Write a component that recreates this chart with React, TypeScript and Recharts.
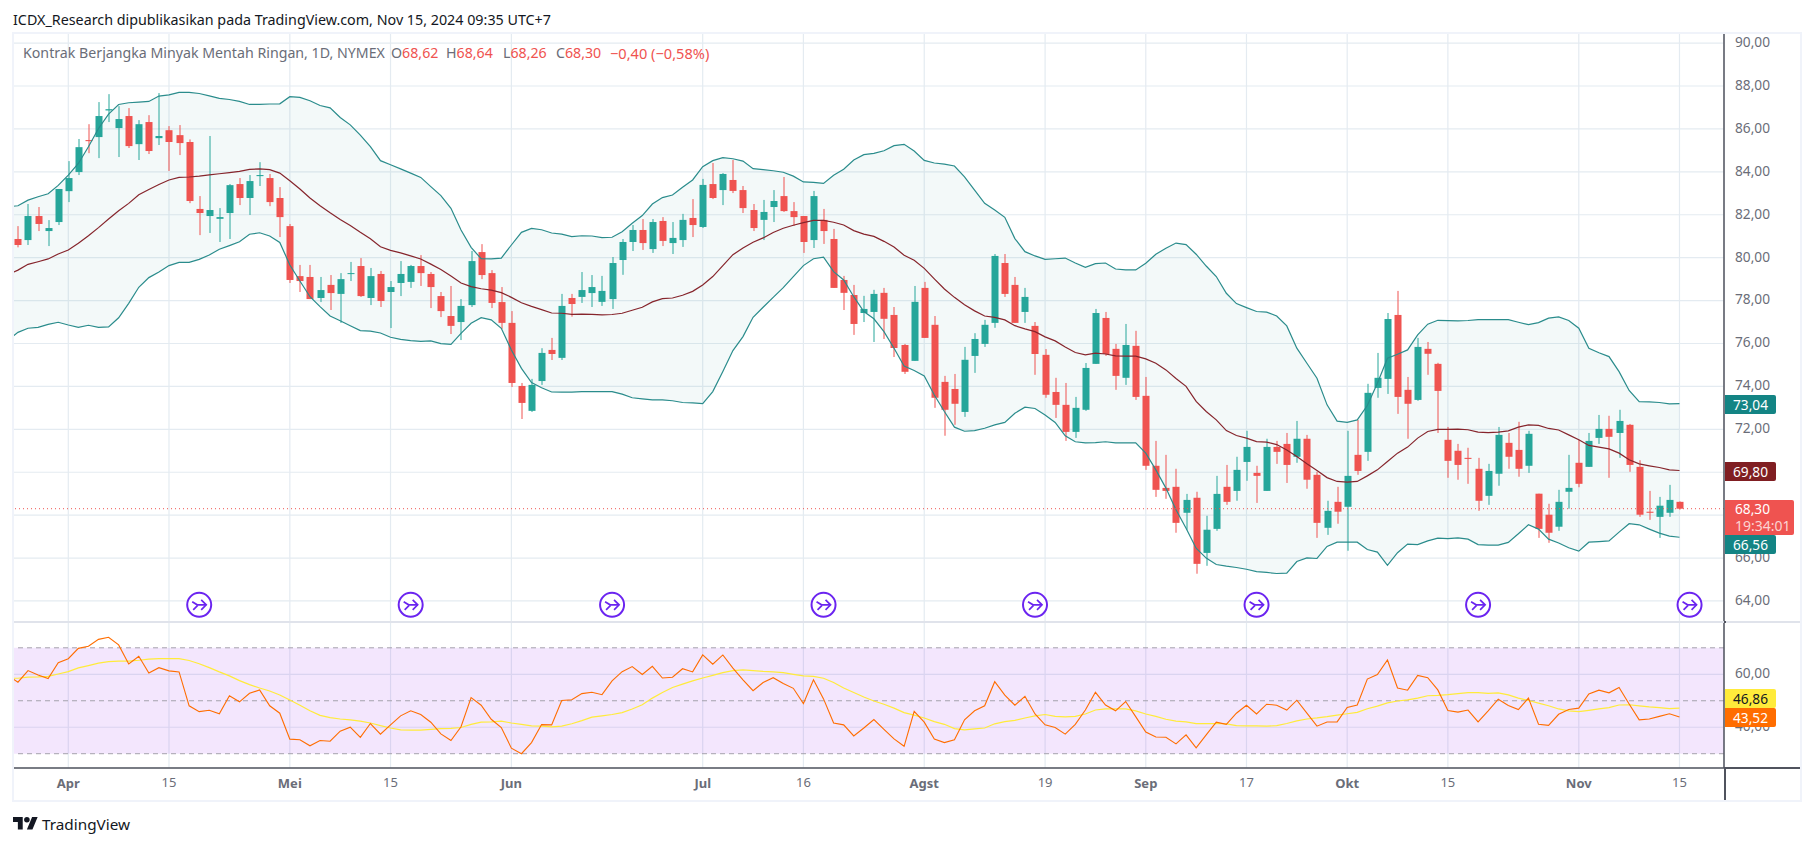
import { Area, Bar, CartesianGrid, ComposedChart, Line, ReferenceArea, ReferenceDot, ReferenceLine, XAxis, YAxis } from "recharts";

// first entry of each list is the bar cut off by the left edge of the pane
const opens = [
  80.90,
  80.87, 80.82, 81.94, 81.24, 81.66, 83.10, 83.99, 85.48, 85.62, 86.86,
  86.04, 86.60, 85.29, 86.32, 85.57, 85.94, 85.71, 85.39, 82.27, 81.94,
  81.81, 82.08, 83.43, 82.78, 83.80, 83.71, 82.78, 81.47, 79.14, 79.10,
  78.12, 78.73, 78.31, 79.24, 79.61, 78.12, 79.24, 78.40, 78.82, 78.87,
  79.61, 79.24, 78.21, 77.28, 77.00, 77.79, 80.26, 79.28, 77.93, 76.96,
  74.02, 72.86, 74.25, 75.70, 75.33, 78.12, 78.17, 78.35, 77.94, 78.07,
  79.89, 80.73, 81.29, 80.40, 81.71, 80.68, 80.82, 81.85, 81.43, 83.43,
  83.15, 83.62, 83.15, 82.22, 81.76, 82.36, 82.87, 82.17, 81.94, 80.82,
  81.76, 80.87, 78.96, 78.26, 77.42, 77.47, 78.36, 77.33, 75.93, 75.19,
  78.59, 76.87, 74.21, 73.88, 72.81, 75.42, 75.98, 76.96, 79.75, 78.73,
  77.47, 76.82, 75.47, 73.74, 73.14, 71.88, 72.91, 75.05, 77.19, 75.75,
  74.40, 75.89, 73.56, 70.30, 69.27, 69.32, 68.11, 68.81, 66.24, 67.36,
  69.32, 69.13, 70.48, 69.97, 69.13, 71.18, 71.32, 70.72, 71.56, 69.88,
  67.41, 68.62, 68.39, 70.81, 70.95, 73.93, 74.35, 77.33, 73.84, 73.37,
  75.75, 75.05, 71.51, 71.00, 70.67, 70.16, 68.90, 69.93, 71.37, 71.04,
  70.30, 69.00, 68.02, 67.46, 69.09, 70.44, 70.25, 71.60, 72.02, 71.83,
  72.21, 70.25, 68.16, 67.92, 68.11, 68.62,
];
const closes = [
  80.87,
  80.59, 81.94, 81.57, 81.38, 83.20, 83.71, 85.15, 85.43, 86.60, 86.92,
  86.46, 85.20, 86.22, 84.97, 85.67, 85.39, 85.34, 82.64, 82.08, 82.22,
  81.89, 83.38, 82.78, 83.57, 83.85, 82.59, 81.89, 78.96, 78.91, 78.07,
  78.49, 78.35, 79.00, 79.28, 78.21, 79.14, 77.98, 78.63, 79.24, 79.61,
  79.28, 78.63, 77.51, 76.82, 77.75, 79.84, 79.19, 77.89, 76.96, 74.16,
  73.23, 74.07, 75.56, 75.51, 77.75, 77.84, 78.49, 78.63, 78.45, 79.75,
  80.73, 81.29, 80.68, 81.66, 80.78, 80.92, 81.76, 81.52, 83.39, 82.78,
  83.90, 83.11, 82.31, 81.38, 82.13, 82.64, 82.17, 81.89, 80.73, 82.87,
  81.24, 78.59, 78.36, 76.91, 77.61, 78.31, 77.15, 75.79, 74.68, 77.94,
  76.26, 73.47, 72.91, 73.19, 75.24, 76.21, 76.87, 80.08, 78.31, 76.96,
  78.17, 75.51, 73.61, 73.14, 71.88, 73.00, 74.86, 77.42, 75.51, 74.49,
  75.93, 73.51, 70.30, 69.18, 69.13, 67.64, 68.71, 65.73, 67.32, 68.99,
  68.62, 70.11, 71.18, 69.83, 71.18, 70.95, 70.34, 71.56, 69.65, 67.64,
  68.20, 68.16, 69.83, 70.06, 73.70, 74.40, 77.14, 73.51, 73.19, 75.84,
  75.52, 73.79, 70.53, 70.34, 70.62, 68.67, 70.06, 71.74, 70.72, 70.16,
  71.79, 67.36, 67.18, 68.62, 69.27, 69.46, 71.46, 72.02, 71.65, 72.39,
  70.34, 68.02, 68.11, 68.44, 68.71, 68.30,
];
const highs = [
  81.20,
  81.47, 82.50, 82.36, 81.75, 83.20, 84.50, 85.53, 86.22, 87.25, 87.62,
  87.06, 86.97, 86.41, 86.64, 87.67, 86.13, 86.18, 85.51, 82.87, 85.67,
  82.31, 83.43, 83.71, 83.85, 84.45, 83.90, 83.29, 81.57, 79.66, 79.66,
  79.10, 79.19, 79.28, 79.80, 79.98, 79.52, 79.38, 78.91, 79.84, 79.66,
  80.12, 79.33, 78.40, 78.68, 78.07, 80.31, 80.63, 79.42, 78.63, 77.51,
  74.16, 74.35, 75.78, 76.26, 78.31, 78.31, 79.33, 79.19, 79.15, 80.03,
  80.87, 81.52, 81.80, 81.80, 81.89, 81.66, 82.04, 82.73, 83.67, 84.41,
  83.94, 84.55, 83.34, 82.50, 82.69, 83.15, 83.76, 82.59, 81.94, 83.11,
  82.27, 81.34, 79.15, 78.73, 78.22, 78.50, 78.59, 77.70, 75.98, 78.68,
  78.87, 77.28, 74.49, 74.58, 75.84, 76.48, 77.10, 80.17, 80.17, 79.10,
  78.59, 77.00, 75.74, 74.40, 74.16, 73.51, 75.09, 77.61, 77.47, 75.98,
  76.91, 76.59, 74.44, 71.46, 70.81, 70.16, 68.99, 69.09, 67.97, 69.83,
  70.34, 70.72, 71.93, 70.30, 71.56, 71.46, 71.83, 72.39, 71.74, 70.02,
  68.67, 69.32, 71.93, 72.44, 74.12, 75.56, 77.42, 78.45, 74.44, 76.26,
  76.07, 75.10, 72.11, 71.32, 71.14, 70.67, 70.39, 72.11, 71.83, 72.35,
  71.93, 69.00, 68.53, 69.18, 70.81, 71.51, 71.83, 72.67, 72.63, 72.91,
  72.25, 70.56, 69.13, 68.85, 69.41, 68.64,
];
const lows = [
  80.60,
  80.48, 80.59, 81.24, 80.54, 81.52, 82.59, 83.85, 84.87, 84.64, 86.32,
  84.69, 85.11, 84.55, 84.83, 85.25, 84.04, 84.78, 82.54, 81.05, 81.15,
  80.73, 80.87, 82.45, 81.99, 83.34, 82.40, 80.96, 78.82, 78.40, 78.07,
  77.93, 77.56, 76.96, 78.91, 78.17, 77.79, 77.70, 76.72, 78.21, 78.59,
  78.68, 77.65, 77.23, 76.44, 76.16, 77.70, 79.00, 77.65, 76.68, 73.97,
  72.48, 72.81, 74.07, 75.23, 75.23, 77.25, 77.89, 77.70, 77.75, 77.61,
  79.20, 80.31, 80.36, 80.22, 80.54, 80.17, 80.50, 80.96, 81.38, 82.73,
  82.45, 83.01, 82.08, 81.24, 80.82, 81.66, 82.13, 81.48, 80.22, 80.45,
  80.64, 78.59, 77.56, 76.40, 77.00, 76.07, 76.21, 75.37, 74.58, 75.19,
  76.26, 73.00, 71.70, 72.21, 72.58, 74.63, 75.84, 76.73, 78.17, 76.96,
  76.96, 74.54, 73.47, 72.53, 71.46, 71.60, 72.86, 75.05, 75.42, 73.84,
  74.07, 73.37, 70.11, 68.85, 68.76, 67.18, 67.32, 65.27, 65.64, 67.27,
  68.48, 68.67, 69.60, 68.57, 69.13, 70.39, 69.50, 70.44, 69.23, 66.94,
  67.08, 67.60, 66.34, 69.88, 70.53, 73.47, 73.65, 72.72, 71.56, 73.33,
  74.54, 71.83, 69.74, 69.65, 69.46, 68.20, 68.48, 69.37, 70.16, 69.79,
  69.97, 66.94, 66.71, 67.27, 68.30, 69.30, 70.25, 71.32, 69.74, 70.67,
  70.02, 67.92, 67.78, 66.94, 67.92, 68.26,
];
const bbUpper = [
  82.37,
  82.42, 82.68, 82.84, 82.98, 83.37, 83.85, 84.39, 85.17, 86.02, 86.69,
  87.14, 87.22, 87.25, 87.28, 87.53, 87.59, 87.70, 87.70, 87.65, 87.54,
  87.42, 87.37, 87.28, 87.14, 87.14, 87.16, 87.17, 87.50, 87.47, 87.31,
  87.09, 86.98, 86.53, 86.19, 85.71, 85.17, 84.52, 84.33, 84.14, 83.94,
  83.74, 83.31, 82.89, 82.30, 81.29, 80.48, 79.95, 79.94, 79.98, 80.59,
  81.18, 81.36, 81.30, 81.15, 81.10, 80.98, 81.02, 81.01, 80.93, 80.95,
  81.21, 81.60, 81.96, 82.50, 82.80, 82.92, 83.28, 83.62, 84.24, 84.52,
  84.66, 84.61, 84.50, 84.15, 84.10, 84.05, 83.98, 83.80, 83.53, 83.51,
  83.46, 83.84, 84.12, 84.55, 84.80, 84.86, 84.98, 85.22, 85.28, 84.97,
  84.53, 84.41, 84.36, 84.27, 83.77, 83.15, 82.53, 82.22, 81.88, 80.89,
  80.28, 80.08, 79.92, 79.95, 79.98, 79.75, 79.55, 79.72, 79.75, 79.47,
  79.43, 79.43, 79.74, 80.16, 80.44, 80.68, 80.61, 80.16, 79.61, 79.12,
  78.34, 77.86, 77.67, 77.49, 77.46, 77.28, 76.82, 75.78, 75.08, 74.38,
  73.14, 72.38, 72.32, 72.44, 73.11, 74.15, 75.31, 75.50, 75.70, 76.40,
  76.90, 77.08, 77.07, 77.05, 77.07, 77.11, 77.11, 77.11, 77.11, 76.99,
  76.88, 76.97, 77.18, 77.24, 77.07, 76.71, 75.78, 75.57, 75.39, 74.69,
  73.81, 73.29, 73.28, 73.25, 73.19, 73.20,
];
const bbBasis = [
  79.20,
  79.42, 79.69, 79.81, 79.94, 80.17, 80.36, 80.67, 81.02, 81.40, 81.80,
  82.19, 82.53, 82.93, 83.18, 83.41, 83.62, 83.74, 83.76, 83.80, 83.86,
  83.91, 83.96, 84.02, 84.11, 84.14, 84.10, 83.94, 83.58, 83.20, 82.78,
  82.42, 82.09, 81.78, 81.50, 81.18, 80.88, 80.51, 80.34, 80.22, 80.08,
  79.94, 79.70, 79.45, 79.14, 78.82, 78.65, 78.55, 78.49, 78.37, 78.15,
  77.90, 77.73, 77.58, 77.42, 77.41, 77.36, 77.37, 77.36, 77.33, 77.35,
  77.41, 77.55, 77.69, 77.94, 78.09, 78.12, 78.25, 78.43, 78.73, 79.12,
  79.63, 80.14, 80.45, 80.72, 80.92, 81.17, 81.37, 81.51, 81.63, 81.74,
  81.74, 81.65, 81.52, 81.26, 81.10, 80.99, 80.76, 80.50, 80.11, 79.88,
  79.50, 79.01, 78.54, 78.15, 77.81, 77.52, 77.28, 77.22, 77.10, 76.83,
  76.68, 76.55, 76.31, 76.12, 75.84, 75.58, 75.47, 75.55, 75.51, 75.42,
  75.41, 75.41, 75.28, 75.08, 74.77, 74.37, 74.00, 73.30, 72.83, 72.44,
  71.94, 71.71, 71.59, 71.43, 71.40, 71.29, 71.04, 70.73, 70.39, 70.08,
  69.75, 69.57, 69.54, 69.57, 69.83, 70.11, 70.50, 70.89, 71.17, 71.59,
  71.90, 72.00, 72.00, 72.01, 71.98, 71.87, 71.85, 71.87, 71.93, 72.10,
  72.21, 72.18, 72.04, 71.97, 71.74, 71.51, 71.25, 71.17, 71.09, 70.89,
  70.58, 70.39, 70.30, 70.22, 70.11, 70.08,
];
const bbLower = [
  76.15,
  76.52, 76.71, 76.75, 76.89, 76.99, 76.86, 76.75, 76.85, 76.75, 76.77,
  77.20, 77.87, 78.62, 79.07, 79.33, 79.63, 79.78, 79.78, 79.92, 80.12,
  80.39, 80.56, 80.74, 81.09, 81.16, 81.01, 80.71, 79.66, 78.91, 78.18,
  77.72, 77.28, 77.06, 76.83, 76.60, 76.58, 76.49, 76.29, 76.19, 76.13,
  76.10, 76.12, 75.99, 75.96, 76.47, 76.94, 77.20, 77.10, 76.71, 75.70,
  74.84, 74.18, 73.94, 73.74, 73.73, 73.73, 73.76, 73.76, 73.76, 73.76,
  73.64, 73.47, 73.42, 73.37, 73.37, 73.33, 73.25, 73.23, 73.20, 73.76,
  74.69, 75.67, 76.32, 77.22, 77.69, 78.15, 78.60, 79.12, 79.63, 79.95,
  80.02, 79.35, 78.96, 78.18, 77.49, 77.15, 76.55, 75.78, 74.95, 74.74,
  74.49, 73.60, 72.83, 72.10, 71.91, 71.94, 72.05, 72.21, 72.32, 72.75,
  73.03, 72.97, 72.67, 72.32, 71.70, 71.42, 71.37, 71.38, 71.42, 71.37,
  71.37, 71.37, 70.89, 70.11, 69.26, 68.25, 67.39, 66.46, 66.00, 65.70,
  65.62, 65.56, 65.48, 65.37, 65.33, 65.28, 65.30, 65.84, 66.01, 65.98,
  66.54, 66.74, 66.74, 66.74, 66.40, 66.28, 65.66, 66.25, 66.65, 66.63,
  66.80, 66.93, 66.91, 66.94, 66.88, 66.63, 66.60, 66.60, 66.73, 67.13,
  67.55, 67.35, 66.88, 66.70, 66.48, 66.32, 66.74, 66.77, 66.80, 67.21,
  67.60, 67.55, 67.35, 67.16, 67.02, 66.97,
];
const rsi = [
  59.6,
  57.0, 61.4, 59.7, 58.4, 64.4, 65.9, 69.8, 70.6, 73.2, 74.0,
  71.1, 63.9, 66.8, 60.5, 62.5, 61.3, 60.9, 48.1, 45.9, 46.4,
  45.1, 51.9, 49.6, 52.8, 54.1, 48.1, 45.3, 35.5, 35.3, 33.0,
  35.0, 34.7, 38.5, 40.0, 36.2, 41.4, 37.4, 40.9, 44.3, 46.2,
  44.8, 41.9, 37.5, 35.0, 40.2, 51.2, 48.3, 43.0, 39.9, 32.1,
  30.0, 34.2, 41.0, 40.9, 50.1, 50.4, 52.7, 53.2, 52.3, 57.5,
  61.0, 62.9, 59.9, 63.0, 58.6, 58.9, 62.1, 60.9, 67.3, 63.8,
  67.3, 62.3, 57.9, 53.8, 56.9, 58.7, 56.5, 54.7, 48.9, 57.9,
  50.7, 41.6, 40.9, 36.7, 39.7, 42.9, 39.2, 35.6, 32.8, 46.0,
  41.9, 35.5, 34.2, 35.3, 42.8, 46.2, 48.1, 57.2, 52.1, 48.3,
  51.7, 45.0, 40.9, 39.9, 37.4, 41.1, 46.5, 53.2, 48.4, 46.2,
  49.7, 44.0, 38.2, 36.3, 36.2, 33.7, 37.1, 32.2, 37.1, 41.9,
  41.1, 45.3, 48.3, 45.0, 48.7, 48.3, 46.5, 50.2, 45.3, 40.4,
  42.0, 42.0, 47.5, 48.4, 58.2, 59.9, 65.4, 54.8, 54.0, 59.6,
  58.7, 54.1, 46.3, 45.7, 46.5, 42.0, 46.2, 50.6, 48.2, 46.7,
  51.0, 41.1, 40.7, 44.9, 46.7, 47.2, 52.6, 54.0, 53.0, 55.0,
  48.8, 42.8, 43.1, 44.1, 45.1, 43.9,
];
const rsiMa = [
  58.5,
  58.5, 58.9, 59.0, 59.2, 60.1, 61.0, 62.4, 63.3, 64.2, 64.8,
  65.0, 65.0, 65.3, 65.7, 65.9, 65.9, 65.9, 65.2, 64.0, 62.5,
  60.9, 59.4, 57.6, 56.1, 54.8, 53.7, 52.2, 50.3, 48.3, 46.2,
  44.5, 43.6, 43.1, 42.8, 42.3, 41.6, 40.6, 39.7, 39.0, 38.9,
  38.9, 39.2, 39.5, 39.6, 39.9, 41.1, 41.9, 42.0, 42.3, 41.6,
  41.1, 40.5, 40.4, 40.1, 40.4, 41.3, 42.5, 43.8, 44.3, 44.8,
  45.5, 46.9, 48.5, 51.0, 53.1, 55.0, 56.3, 57.5, 58.6, 59.6,
  60.6, 61.4, 61.7, 61.4, 61.1, 60.9, 60.6, 60.0, 59.4, 59.2,
  58.5, 56.9, 54.8, 53.1, 51.4, 49.9, 48.7, 47.2, 45.5, 44.6,
  43.5, 42.1, 41.1, 39.5, 39.0, 39.4, 39.7, 41.3, 42.1, 42.6,
  43.5, 44.3, 44.8, 44.1, 43.9, 44.1, 45.0, 46.5, 46.9, 46.9,
  46.9, 46.2, 45.0, 44.1, 43.0, 42.3, 42.0, 41.4, 41.4, 41.4,
  41.3, 40.6, 40.5, 40.5, 40.4, 40.6, 41.4, 42.4, 43.1, 43.5,
  44.0, 44.6, 45.1, 45.6, 47.0, 48.0, 49.2, 49.9, 50.3, 51.0,
  51.9, 52.0, 52.3, 52.7, 53.1, 53.1, 52.8, 53.0, 52.2, 51.0,
  50.1, 49.1, 48.1, 46.9, 46.2, 45.9, 46.4, 46.9, 47.4, 48.4,
  48.5, 48.1, 47.7, 47.4, 47.0, 47.2,
];

const priceTicks = [64, 66, 68, 70, 72, 74, 76, 78, 80, 82, 84, 86, 88, 90];
const rsiTicks = [40, 60];
const rsiLevels = [70, 50, 30];
const timeTickBars = [6, 16, 28, 38, 50, 69, 79, 91, 103, 113, 123, 133, 143, 156, 166];
const timeTickLabels = ["Apr", "15", "Mei", "15", "Jun", "Jul", "16", "Agst", "19", "Sep", "17", "Okt", "15", "Nov", "15"];
const eventBars = [19, 40, 60, 81, 102, 124, 146, 167];

const candles = opens.map((open, i) => ({
  bar: i,
  open,
  close: closes[i],
  high: highs[i],
  low: lows[i],
  upper: bbUpper[i],
  basis: bbBasis[i],
  lower: bbLower[i],
  rsi: rsi[i],
  rsiMa: rsiMa[i],
}));

const UP = "#26a69a";
const DOWN = "#ef5350";
const GRID = "#e4ebf1";
const AXIS = "#50535e";
const MUTED = "#6a6d78";
const FONT = "'Noto Sans', sans-serif";
const xDomain = [0.509, 170.42];
const comma = (v: number) => v.toFixed(2).replace(".", ",");

function Candle(props: any) {
  const { x, y, width, height, payload } = props;
  const perUnit = height / (payload.high - payload.low);
  const top = y + (payload.high - Math.max(payload.open, payload.close)) * perUnit;
  const bottom = y + (payload.high - Math.min(payload.open, payload.close)) * perUnit;
  const color = payload.close >= payload.open ? UP : DOWN;
  const mid = Math.round(x + width / 2);
  return (
    <g>
      <line x1={mid} x2={mid} y1={y} y2={y + height} stroke={color} strokeWidth={1} />
      <rect x={mid - 3.5} y={top} width={7} height={Math.max(bottom - top, 1)} fill={color} />
    </g>
  );
}

function EventIcon(props: any) {
  const { cx, cy } = props;
  return (
    <g fill="none" stroke="#6b24f0" strokeWidth={1.7}>
      <circle cx={cx} cy={cy} r={12} fill="#fff" strokeWidth={2} />
      <path d={`M${cx - 7} ${cy - 3}L${cx - 2} ${cy}L${cx + 7} ${cy}`} />
      <path d={`M${cx + 2} ${cy - 5}L${cx + 7} ${cy}L${cx + 2} ${cy + 5}`} />
      <path d={`M${cx - 6} ${cy + 5}L${cx - 1.5} ${cy + 0.5}`} />
    </g>
  );
}

function TimeTick(props: any) {
  const { x, y, index } = props;
  const label = timeTickLabels[index];
  const isMonth = !/^\d+$/.test(label);
  return (
    <text x={x} y={y} textAnchor="middle" dominantBaseline="middle" fontFamily={FONT} fontSize={13} fontWeight={isMonth ? 700 : 400} fill={MUTED}>
      {label}
    </text>
  );
}

function Tag({ top, text, bg, color = "#fff", height = 19 }: { top: number; text: string; bg: string; color?: string; height?: number }) {
  return (
    <div style={{ position: "absolute", left: 1725, top, width: 51, height, lineHeight: `${height}px`, background: bg, color, fontSize: 13.7, textAlign: "center", borderRadius: "0 2px 2px 0" }}>
      {text}
    </div>
  );
}

function Label({ left, top, color, size = 14.2, children }: { left: number; top: number; color: string; size?: number; children: any }) {
  return <div style={{ position: "absolute", left, top, color, fontSize: size, lineHeight: "18px", whiteSpace: "nowrap" }}>{children}</div>;
}

export default function App() {
  return (
    <div style={{ position: "absolute", left: 0, top: 0, width: 1814, height: 846, background: "#fff", fontFamily: FONT, overflow: "hidden" }}>
      <Label left={13} top={11} color="#131722" size={14.3}>
        ICDX_Research dipublikasikan pada TradingView.com, Nov 15, 2024 09:35 UTC+7
      </Label>

      <div style={{ position: "absolute", left: 13, top: 33 }}>
        <ComposedChart width={1788} height={589} data={candles} margin={{ top: 0, right: 0, bottom: 0, left: 0 }}>
          <CartesianGrid stroke={GRID} strokeWidth={1.2} />
          <XAxis dataKey="bar" type="number" domain={xDomain} ticks={timeTickBars} allowDataOverflow hide />
          <YAxis
            orientation="right"
            width={77}
            domain={[63.02, 90.47]}
            ticks={priceTicks}
            interval={0}
            allowDataOverflow
            tickFormatter={comma}
            tickLine={false}
            tickMargin={5}
            axisLine={{ stroke: AXIS, strokeWidth: 1.5 }}
            tick={{ fill: MUTED, fontSize: 13.7, fontFamily: FONT, dy: -1 }}
          />
          <Area dataKey={(d: any) => [d.lower, d.upper]} type="linear" stroke="none" fill="#138484" fillOpacity={0.05} isAnimationActive={false} />
          <Line dataKey="upper" type="linear" stroke="#2a8c8c" strokeWidth={1.2} dot={false} isAnimationActive={false} />
          <Line dataKey="lower" type="linear" stroke="#2a8c8c" strokeWidth={1.2} dot={false} isAnimationActive={false} />
          <Line dataKey="basis" type="linear" stroke="#86252c" strokeWidth={1.2} dot={false} isAnimationActive={false} />
          <Bar dataKey={(d: any) => [d.low, d.high]} barSize={7} shape={Candle} isAnimationActive={false} />
          <ReferenceLine y={68.3} stroke={DOWN} strokeDasharray="1 3" strokeWidth={1} />
          {eventBars.map((bar) => (
            <ReferenceDot key={bar} x={bar} y={63.82} shape={EventIcon} ifOverflow="visible" />
          ))}
        </ComposedChart>
      </div>

      <div style={{ position: "absolute", left: 13, top: 622 }}>
        <ComposedChart width={1788} height={180} data={candles} margin={{ top: 0, right: 0, bottom: 0, left: 0 }}>
          <CartesianGrid stroke={GRID} strokeWidth={1.2} />
          <ReferenceArea y1={30} y2={70} fill="#8705eb" fillOpacity={0.1} stroke="none" ifOverflow="visible" />
          <XAxis
            dataKey="bar"
            type="number"
            domain={xDomain}
            ticks={timeTickBars}
            interval={0}
            allowDataOverflow
            height={34}
            tickLine={false}
            tickSize={0}
            tickMargin={16}
            axisLine={{ stroke: AXIS, strokeWidth: 1.5 }}
            tick={TimeTick}
          />
          <YAxis
            orientation="right"
            width={77}
            domain={[24.6, 79.75]}
            ticks={rsiTicks}
            interval={0}
            allowDataOverflow
            tickFormatter={comma}
            tickLine={false}
            tickMargin={5}
            axisLine={{ stroke: AXIS, strokeWidth: 1.5 }}
            tick={{ fill: MUTED, fontSize: 13.7, fontFamily: FONT, dy: -1 }}
          />
          {rsiLevels.map((level) => (
            <ReferenceLine key={level} y={level} stroke="#a5a2ad" strokeDasharray="5 4" strokeWidth={1} />
          ))}
          <Line dataKey="rsiMa" type="linear" stroke="#ffeb3b" strokeWidth={1.2} dot={false} isAnimationActive={false} />
          <Line dataKey="rsi" type="linear" stroke="#ff6d00" strokeWidth={1.1} dot={false} isAnimationActive={false} />
        </ComposedChart>
      </div>

      <div style={{ position: "absolute", left: 13, top: 621, width: 1788, height: 2, background: "#e0e3eb" }} />
      <div style={{ position: "absolute", left: 1724, top: 767, width: 77, height: 1.5, background: AXIS }} />
      <div style={{ position: "absolute", left: 1724, top: 767, width: 1.5, height: 34, background: AXIS }} />
      <div style={{ position: "absolute", left: 1724, top: 621, width: 1.5, height: 2, background: AXIS }} />
      <div style={{ position: "absolute", left: 12, top: 32, width: 1790, height: 770, border: "2px solid #f0f3fa", boxSizing: "border-box", pointerEvents: "none" }} />

      <Label left={23} top={44} color={MUTED}>
        Kontrak Berjangka Minyak Mentah Ringan, 1D, NYMEX
      </Label>
      <Label left={391} top={44} color={MUTED}>O<span style={{ color: DOWN }}>68,62</span></Label>
      <Label left={446} top={44} color={MUTED}>H<span style={{ color: DOWN }}>68,64</span></Label>
      <Label left={503} top={44} color={MUTED}>L<span style={{ color: DOWN }}>68,26</span></Label>
      <Label left={556} top={44} color={MUTED}>C<span style={{ color: DOWN }}>68,30</span></Label>
      <Label left={610} top={44} color={DOWN} size={14.6}>−0,40 (−0,58%)</Label>

      <Tag top={395} text="73,04" bg="#138484" />
      <Tag top={462} text="69,80" bg="#801e22" />
      <div style={{ position: "absolute", left: 1725, top: 500, width: 69, height: 35, background: DOWN, color: "#fff", fontSize: 13.7, lineHeight: "17px", paddingLeft: 10, boxSizing: "border-box", borderRadius: "0 2px 2px 0" }}>
        68,30
        <div style={{ color: "#fbd3d2", fontSize: 14, whiteSpace: "nowrap" }}>19:34:01</div>
      </div>
      <Tag top={535} text="66,56" bg="#138484" />
      <Tag top={689} text="46,86" bg="#ffeb3b" color="#131722" />
      <Tag top={708} text="43,52" bg="#ff6d00" />

      <svg style={{ position: "absolute", left: 13, top: 817 }} width={25} height={14} viewBox="0 0 36 20">
        <path d="M14 18H7V7H0V0h14v18zM28 18h-8L27.500 0h8L28 18z" fill="#131722" />
        <circle cx={20} cy={4} r={4} fill="#131722" />
      </svg>
      <Label left={42} top={815} color="#131722" size={15.3}>TradingView</Label>
    </div>
  );
}
